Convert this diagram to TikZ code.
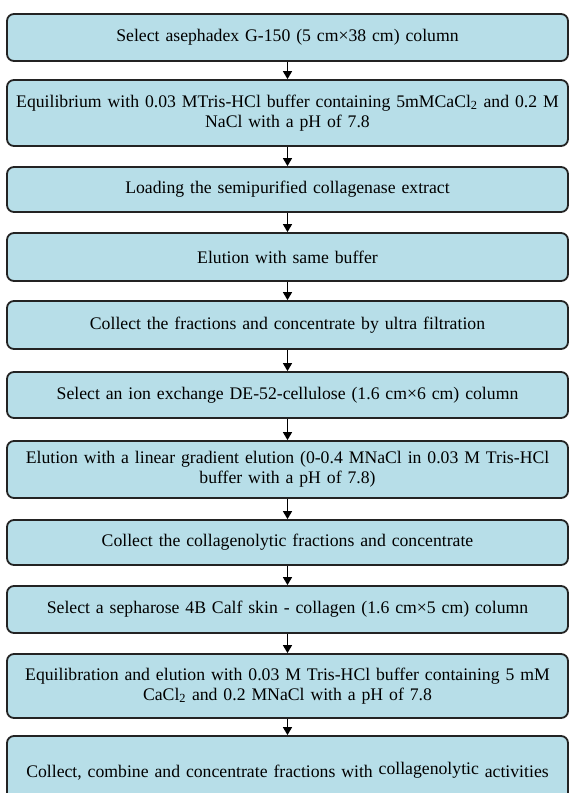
\documentclass[tikz,border=0pt]{standalone}
\usepackage{fontspec}
\setmainfont{Liberation Serif}
\usetikzlibrary{arrows.meta}
\definecolor{cbox}{RGB}{183,222,232}
\definecolor{cline}{RGB}{35,35,35}

\begin{document}
\begin{tikzpicture}[x=1pt,y=-1pt,
  stepbox/.style={rounded corners=7pt, draw=cline, fill=cbox, line width=1.8pt, align=center,
             text width=557pt, minimum width=561pt, inner sep=0pt,
             font=\fontsize{17.7}{20}\selectfont},
  ar/.style={-{Triangle[length=8pt,width=9pt]}, draw=black, line width=1.3pt}]
\clip (0,0) rectangle (571,793);
\fill[white] (0,0) rectangle (571,793);
\node[stepbox, minimum height=47pt] (sel)   at (287.5,37.5)  {Select asephadex G-150 (5 cm×38 cm) column};
\node[stepbox, minimum height=66pt] (equil) at (287.5,113)   {Equilibrium with 0.03 MTris-HCl buffer containing 5mMCaCl\textsubscript{2} and 0.2 M\\NaCl with a pH of 7.8};
\node[stepbox, minimum height=45pt] (load)  at (287.5,189.5) {Loading the semipurified collagenase extract};
\node[stepbox, minimum height=48pt] (elu)   at (287.5,257)   {Elution with same buffer};
\node[stepbox, minimum height=48pt] (coll)  at (287.5,325)   {Collect the fractions and concentrate by ultra filtration};
\node[stepbox, minimum height=46pt] (anion) at (287.5,395)   {Select an ion exchange DE-52-cellulose (1.6 cm×6 cm) column};
\node[stepbox, minimum height=57pt] (grad)  at (287.5,469.5) {Elution with a linear gradient elution (0-0.4 MNaCl in 0.03 M Tris-HCl\\buffer with a pH of 7.8)};
\node[stepbox, minimum height=45pt] (conc)  at (287.5,542.5) {Collect the collagenolytic fractions and concentrate};
\node[stepbox, minimum height=47pt] (seph)  at (287.5,609.5) {Select a sepharose 4B Calf skin - collagen (1.6 cm×5 cm) column};
\node[stepbox, minimum height=64pt] (eqel)  at (287.5,686)   {Equilibration and elution with 0.03 M Tris-HCl buffer containing 5 mM\\CaCl\textsubscript{2} and 0.2 MNaCl with a pH of 7.8};
\node[stepbox, minimum height=71pt] (comb)  at (287.5,771.5) {Collect, combine and concentrate fractions with \raisebox{3pt}{collagenolytic} activities};
\draw[ar] (sel) -- (equil);
\draw[ar] (equil) -- (load);
\draw[ar] (load) -- (elu);
\draw[ar] (elu) -- (coll);
\draw[ar] (coll) -- (anion);
\draw[ar] (anion) -- (grad);
\draw[ar] (grad) -- (conc);
\draw[ar] (conc) -- (seph);
\draw[ar] (seph) -- (eqel);
\draw[ar] (eqel) -- (comb);
\end{tikzpicture}
\end{document}
